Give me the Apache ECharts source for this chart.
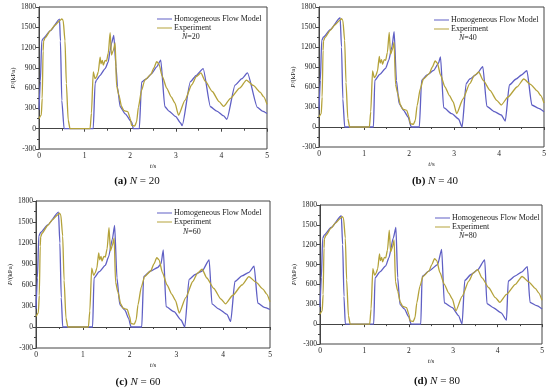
<!DOCTYPE html>
<html><head><meta charset="utf-8">
<script src="https://cdn.jsdelivr.net/npm/echarts@6/dist/echarts.min.js"></script>
<style>html,body{margin:0;padding:0;background:#fff}#c{width:550px;height:392px}</style>
</head><body><div id="c"></div>
<script>
// Tick labels
const xTicks = [0, 1, 2, 3, 4, 5];
const yTicks = [-300, 0, 300, 600, 900, 1200, 1500, 1800];
const panelLabels = ['(a)', '(b)', '(c)', '(d)'];
const panelN = [20, 40, 60, 80];
const seriesNames = ['Homogeneous Flow Model', 'Experiment'];

// Experiment (same in all panels): [t (s), P (kPa)]
const experiment = [
  [0,150],[0.05,200],[0.07,450],[0.09,1150],[0.1,1290],[0.13,1340],[0.25,1450],[0.35,1530],[0.46,1600],[0.5,1625],[0.53,1600],
  [0.57,1300],[0.6,670],[0.64,130],[0.68,0],[1.12,0],[1.15,230],[1.19,840],[1.23,740],[1.26,765],[1.3,840],[1.34,1060],
  [1.36,960],[1.39,1010],[1.41,940],[1.45,1010],[1.48,1000],[1.52,1120],[1.56,1420],[1.59,1090],[1.63,1160],[1.67,1270],
  [1.7,640],[1.75,500],[1.81,330],[1.86,270],[1.9,260],[1.95,250],[2.0,150],[2.03,50],[2.1,40],[2.14,100],[2.18,320],
  [2.25,570],[2.32,720],[2.45,800],[2.52,900],[2.58,990],[2.63,960],[2.7,780],[2.8,600],[2.9,470],[2.98,380],[3.06,200],
  [3.2,420],[3.35,650],[3.45,770],[3.55,825],[3.65,700],[3.8,550],[3.95,400],[4.05,330],[4.2,450],[4.4,600],[4.55,720],
  [4.7,640],[4.85,540],[4.93,470],[5.0,360]
];

// Homogeneous Flow Model, N = 20
const modelN20 = [
  [0,280],[0.03,700],[0.06,1300],[0.1,1340],[0.25,1450],[0.45,1620],[0.47,1300],[0.5,420],[0.55,0],[1.19,0],[1.23,670],
  [1.26,720],[1.34,790],[1.45,890],[1.52,990],[1.56,1160],[1.59,1260],[1.64,1380],[1.69,915],[1.72,620],[1.78,325],
  [1.89,220],[2.03,100],[2.07,0],[2.2,0],[2.25,690],[2.36,740],[2.47,815],[2.58,915],[2.67,1015],[2.76,325],[2.85,260],
  [3.0,180],[3.1,90],[3.14,45],[3.32,695],[3.45,790],[3.6,890],[3.76,325],[3.9,260],[4.05,190],[4.12,140],[4.3,645],
  [4.45,740],[4.57,825],[4.79,315],[4.9,260],[5.0,225]
];

// Homogeneous Flow Model, N = 40
const modelN40 = [
  [0,260],[0.03,700],[0.06,1300],[0.1,1350],[0.25,1460],[0.47,1640],[0.5,1200],[0.53,420],[0.57,0],[1.21,0],[1.24,700],
  [1.35,790],[1.48,880],[1.55,1000],[1.62,1200],[1.67,1430],[1.72,700],[1.78,350],[1.88,250],[1.98,150],[2.05,0],[2.23,0],
  [2.28,700],[2.4,780],[2.55,850],[2.65,950],[2.7,1050],[2.77,290],[2.95,200],[3.1,120],[3.18,0],[3.27,650],[3.35,720],
  [3.5,790],[3.64,905],[3.73,310],[3.9,230],[4.05,180],[4.14,90],[4.23,630],[4.38,720],[4.5,780],[4.62,845],[4.73,330],
  [4.88,280],[5.0,230]
];

// Homogeneous Flow Model, N = 60
const modelN60 = [
  [0,260],[0.03,700],[0.06,1300],[0.1,1350],[0.25,1460],[0.48,1640],[0.51,1200],[0.54,420],[0.57,0],[1.21,0],[1.24,700],
  [1.35,790],[1.48,880],[1.55,1000],[1.63,1250],[1.68,1450],[1.73,700],[1.79,320],[1.9,240],[1.98,120],[2.03,0],[2.26,0],
  [2.3,720],[2.45,800],[2.6,850],[2.67,900],[2.72,1100],[2.78,290],[2.95,220],[3.1,100],[3.18,0],[3.27,680],[3.4,750],
  [3.55,800],[3.7,960],[3.76,330],[3.9,260],[4.08,180],[4.16,80],[4.25,650],[4.4,730],[4.55,780],[4.66,870],[4.74,340],
  [4.88,280],[5.0,250]
];

// Homogeneous Flow Model, N = 80
const modelN80 = [
  [0,260],[0.03,700],[0.06,1300],[0.1,1350],[0.25,1460],[0.48,1640],[0.51,1200],[0.54,420],[0.57,0],[1.21,0],[1.24,700],
  [1.35,790],[1.48,880],[1.55,1000],[1.65,1300],[1.71,1460],[1.75,700],[1.8,300],[1.9,230],[2.0,110],[2.05,0],[2.27,0],
  [2.3,720],[2.45,800],[2.65,900],[2.74,1130],[2.8,320],[2.98,250],[3.12,130],[3.2,0],[3.26,660],[3.4,750],[3.55,820],
  [3.71,970],[3.76,310],[3.9,250],[4.08,170],[4.2,60],[4.24,650],[4.4,730],[4.55,790],[4.67,870],[4.73,330],[4.88,280],
  [5.0,230]
];

const models = [modelN20, modelN40, modelN60, modelN80];

const BLUE = '#5f5fc4', OLIVE = '#b4a23a', FONT = 'Liberation Serif';
const grids = [
  {left: 39, top: 7, width: 228, height: 142},
  {left: 319, top: 7, width: 225, height: 140},
  {left: 36, top: 201, width: 234, height: 147},
  {left: 320, top: 205, width: 222, height: 139}
];
const legendPos = [{l:157,t:15},{l:434,t:16},{l:157,t:209},{l:435,t:214}];
const nPos = [{l:182,t:33},{l:459,t:34},{l:183,t:228},{l:459,t:232}];
const capPos = [{c:137,t:176},{c:435,t:176},{c:138,t:377},{c:437,t:376}];

const option = {animation:false, grid:[], xAxis:[], yAxis:[], series:[], legend:[], title:[]};
const axisLineStyle = {color:'#444', width:1};
for (let i = 0; i < 4; i++) {
  option.grid.push(Object.assign({show:true, borderColor:'#444', borderWidth:1, backgroundColor:'#fff'}, grids[i]));
  option.xAxis.push({
    gridIndex:i, type:'value', min:xTicks[0], max:xTicks[xTicks.length-1], interval:1,
    axisLine:{show:true, lineStyle:axisLineStyle}, axisTick:{show:true, length:3, lineStyle:axisLineStyle},
    minorTick:{show:true, splitNumber:2, length:2, lineStyle:axisLineStyle}, splitLine:{show:false},
    axisLabel:{fontFamily:FONT, fontSize:7.5, color:'#222', margin:3, formatter:(v)=>String(v)},
    name:'{i|t}/s', nameLocation:'middle', nameGap:14,
    nameTextStyle:{fontFamily:FONT, fontSize:7, color:'#222', rich:{i:{fontStyle:'italic', fontFamily:FONT, fontSize:7}}}
  });
  option.yAxis.push({
    gridIndex:i, type:'value', min:yTicks[0], max:yTicks[yTicks.length-1], interval:300,
    axisLine:{show:true, lineStyle:axisLineStyle}, axisTick:{show:true, length:3, lineStyle:axisLineStyle},
    minorTick:{show:true, splitNumber:2, length:2, lineStyle:axisLineStyle}, splitLine:{show:false},
    axisLabel:{fontFamily:FONT, fontSize:7.5, color:'#222', margin:3, formatter:(v)=>String(v)},
    name:'{i|P}/(kPa)', nameLocation:'middle', nameGap:21, nameRotate:90,
    nameTextStyle:{fontFamily:FONT, fontSize:7, color:'#222', rich:{i:{fontStyle:'italic', fontFamily:FONT, fontSize:7}}}
  });
  option.series.push({
    name:seriesNames[0], type:'line', xAxisIndex:i, yAxisIndex:i, data:models[i], showSymbol:false, symbol:'none',
    smooth:0.2, smoothMonotone:'x',
    lineStyle:{color:BLUE, width:1.3}, itemStyle:{color:BLUE}, z:2
  });
  option.series.push({
    name:seriesNames[1], type:'line', xAxisIndex:i, yAxisIndex:i, data:experiment, showSymbol:false, symbol:'none',
    smooth:0.2, smoothMonotone:'x',
    lineStyle:{color:OLIVE, width:1.3}, itemStyle:{color:OLIVE}, z:3
  });
  option.legend.push({
    left:legendPos[i].l, top:legendPos[i].t, orient:'vertical', itemGap:1, itemWidth:15, itemHeight:8, icon:'path://M0,4L15,4L15,5L0,5Z',
    data:seriesNames, selectedMode:false, padding:0,
    textStyle:{fontFamily:FONT, fontSize:8, color:'#222', padding:[0,0,0,-3]}
  });
  option.title.push({
    left:nPos[i].l, top:nPos[i].t, padding:0,
    text:'{i|N}=' + panelN[i],
    textStyle:{fontFamily:FONT, fontSize:8, fontWeight:'normal', color:'#222', rich:{i:{fontStyle:'italic', fontFamily:FONT, fontSize:8}}}
  });
  option.title.push({
    left:capPos[i].c, top:capPos[i].t, textAlign:'center', padding:0,
    text:'{b|' + panelLabels[i] + '} {i|N} = ' + panelN[i],
    textStyle:{fontFamily:FONT, fontSize:11, fontWeight:'normal', color:'#111',
      rich:{b:{fontWeight:'bold', fontFamily:FONT, fontSize:11}, i:{fontStyle:'italic', fontFamily:FONT, fontSize:11}}}
  });
}
const chart = echarts.init(document.getElementById('c'), null, {renderer:'canvas'});
chart.setOption(option);
</script></body></html>
